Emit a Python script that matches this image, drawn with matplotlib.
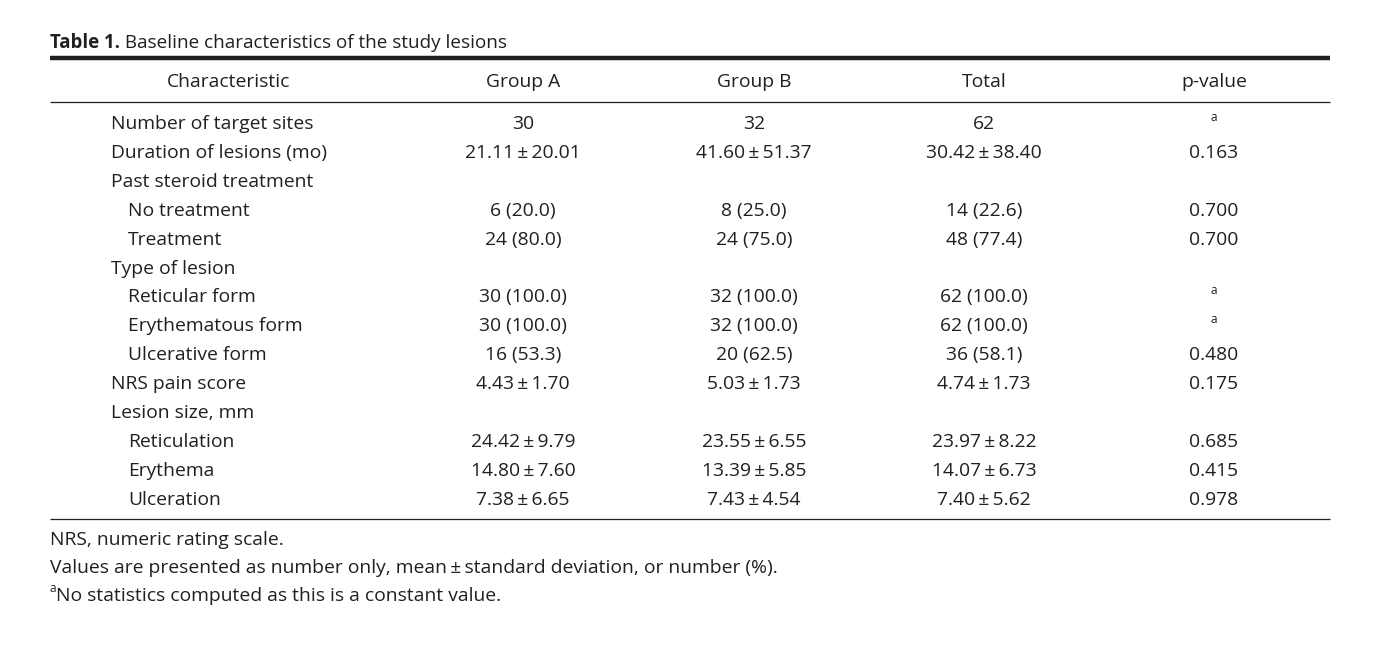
import matplotlib
matplotlib.use("Agg")
import matplotlib.pyplot as plt
from matplotlib.lines import Line2D

W, H = 1376, 659
FONT = ["Open Sans", "DejaVu Sans"]
COLOR = "#231f20"
FS = 13.9

PM = "\u2009\u00b1\u2009"

title_bold = "Table 1."
title_rest = " Baseline characteristics of the study lesions"
headers = ["Characteristic", "Group A", "Group B", "Total", "p-value"]

row_labels = ["Number of target sites", "Duration of lesions (mo)", "Past steroid treatment",
              "No treatment", "Treatment", "Type of lesion", "Reticular form",
              "Erythematous form", "Ulcerative form", "NRS pain score", "Lesion size, mm",
              "Reticulation", "Erythema", "Ulceration"]
row_indent = [0, 0, 0, 1, 1, 0, 1, 1, 1, 0, 0, 1, 1, 1]
group_a = ["30", "21.11\u00b120.01", "", "6 (20.0)", "24 (80.0)", "", "30 (100.0)",
           "30 (100.0)", "16 (53.3)", "4.43\u00b11.70", "", "24.42\u00b19.79",
           "14.80\u00b17.60", "7.38\u00b16.65"]
group_b = ["32", "41.60\u00b151.37", "", "8 (25.0)", "24 (75.0)", "", "32 (100.0)",
           "32 (100.0)", "20 (62.5)", "5.03\u00b11.73", "", "23.55\u00b16.55",
           "13.39\u00b15.85", "7.43\u00b14.54"]
total = ["62", "30.42\u00b138.40", "", "14 (22.6)", "48 (77.4)", "", "62 (100.0)",
         "62 (100.0)", "36 (58.1)", "4.74\u00b11.73", "", "23.97\u00b18.22",
         "14.07\u00b16.73", "7.40\u00b15.62"]
p_values = ["a", "0.163", "", "0.700", "0.700", "", "a", "a", "0.480", "0.175", "",
            "0.685", "0.415", "0.978"]
footnotes = ["NRS, numeric rating scale.",
             "Values are presented as number only, mean\u00b1standard deviation, or number (%).",
             "No statistics computed as this is a constant value."]

fig = plt.figure(figsize=(W / 100, H / 100), dpi=100)
fig.patch.set_facecolor("white")

def fx(x):
    return x / W

def fy(y):
    return 1 - y / H

def txt(x, y, s, ha="left", size=FS, weight="normal", va="center_baseline"):
    s = s.replace("\u00b1", PM)
    return fig.text(fx(x), fy(y), s, ha=ha, va=va, fontsize=size, fontweight=weight,
                    family=FONT, color=COLOR)

def hline(y, lw):
    fig.add_artist(Line2D([fx(50), fx(1330)], [fy(y), fy(y)], lw=lw, color=COLOR,
                          transform=fig.transFigure, solid_capstyle="butt"))

# title
t = txt(50, 41, title_bold, weight="bold", size=13.4)
fig.canvas.draw()
bb = t.get_window_extent()
txt(bb.x1, 41, title_rest, size=13.6)

hline(58, 3.2)
hline(102, 0.9)
hline(519, 0.9)

col_x = [229, 523, 754, 984, 1214]
for x, h in zip(col_x, headers):
    txt(x, 80, h, ha="center")

y0, dy = 122, 28.9
for i, lab in enumerate(row_labels):
    y = y0 + i * dy
    txt(111 + 17 * row_indent[i], y, lab)
    for x, v in zip(col_x[1:4], [group_a[i], group_b[i], total[i]]):
        if v:
            txt(x, y, v, ha="center")
    p = p_values[i]
    if p == "a":
        txt(col_x[4], y - 6, p, ha="center", size=8.5)
    elif p:
        txt(col_x[4], y, p, ha="center")

fy_list = [538, 566, 594]
for i, fn in enumerate(footnotes):
    if i == 2:
        txt(50, fy_list[i] - 7, "a", size=8.5)
        txt(56, fy_list[i], fn)
    else:
        txt(50, fy_list[i], fn)

fig.savefig("out.png", dpi=100, facecolor="white")
